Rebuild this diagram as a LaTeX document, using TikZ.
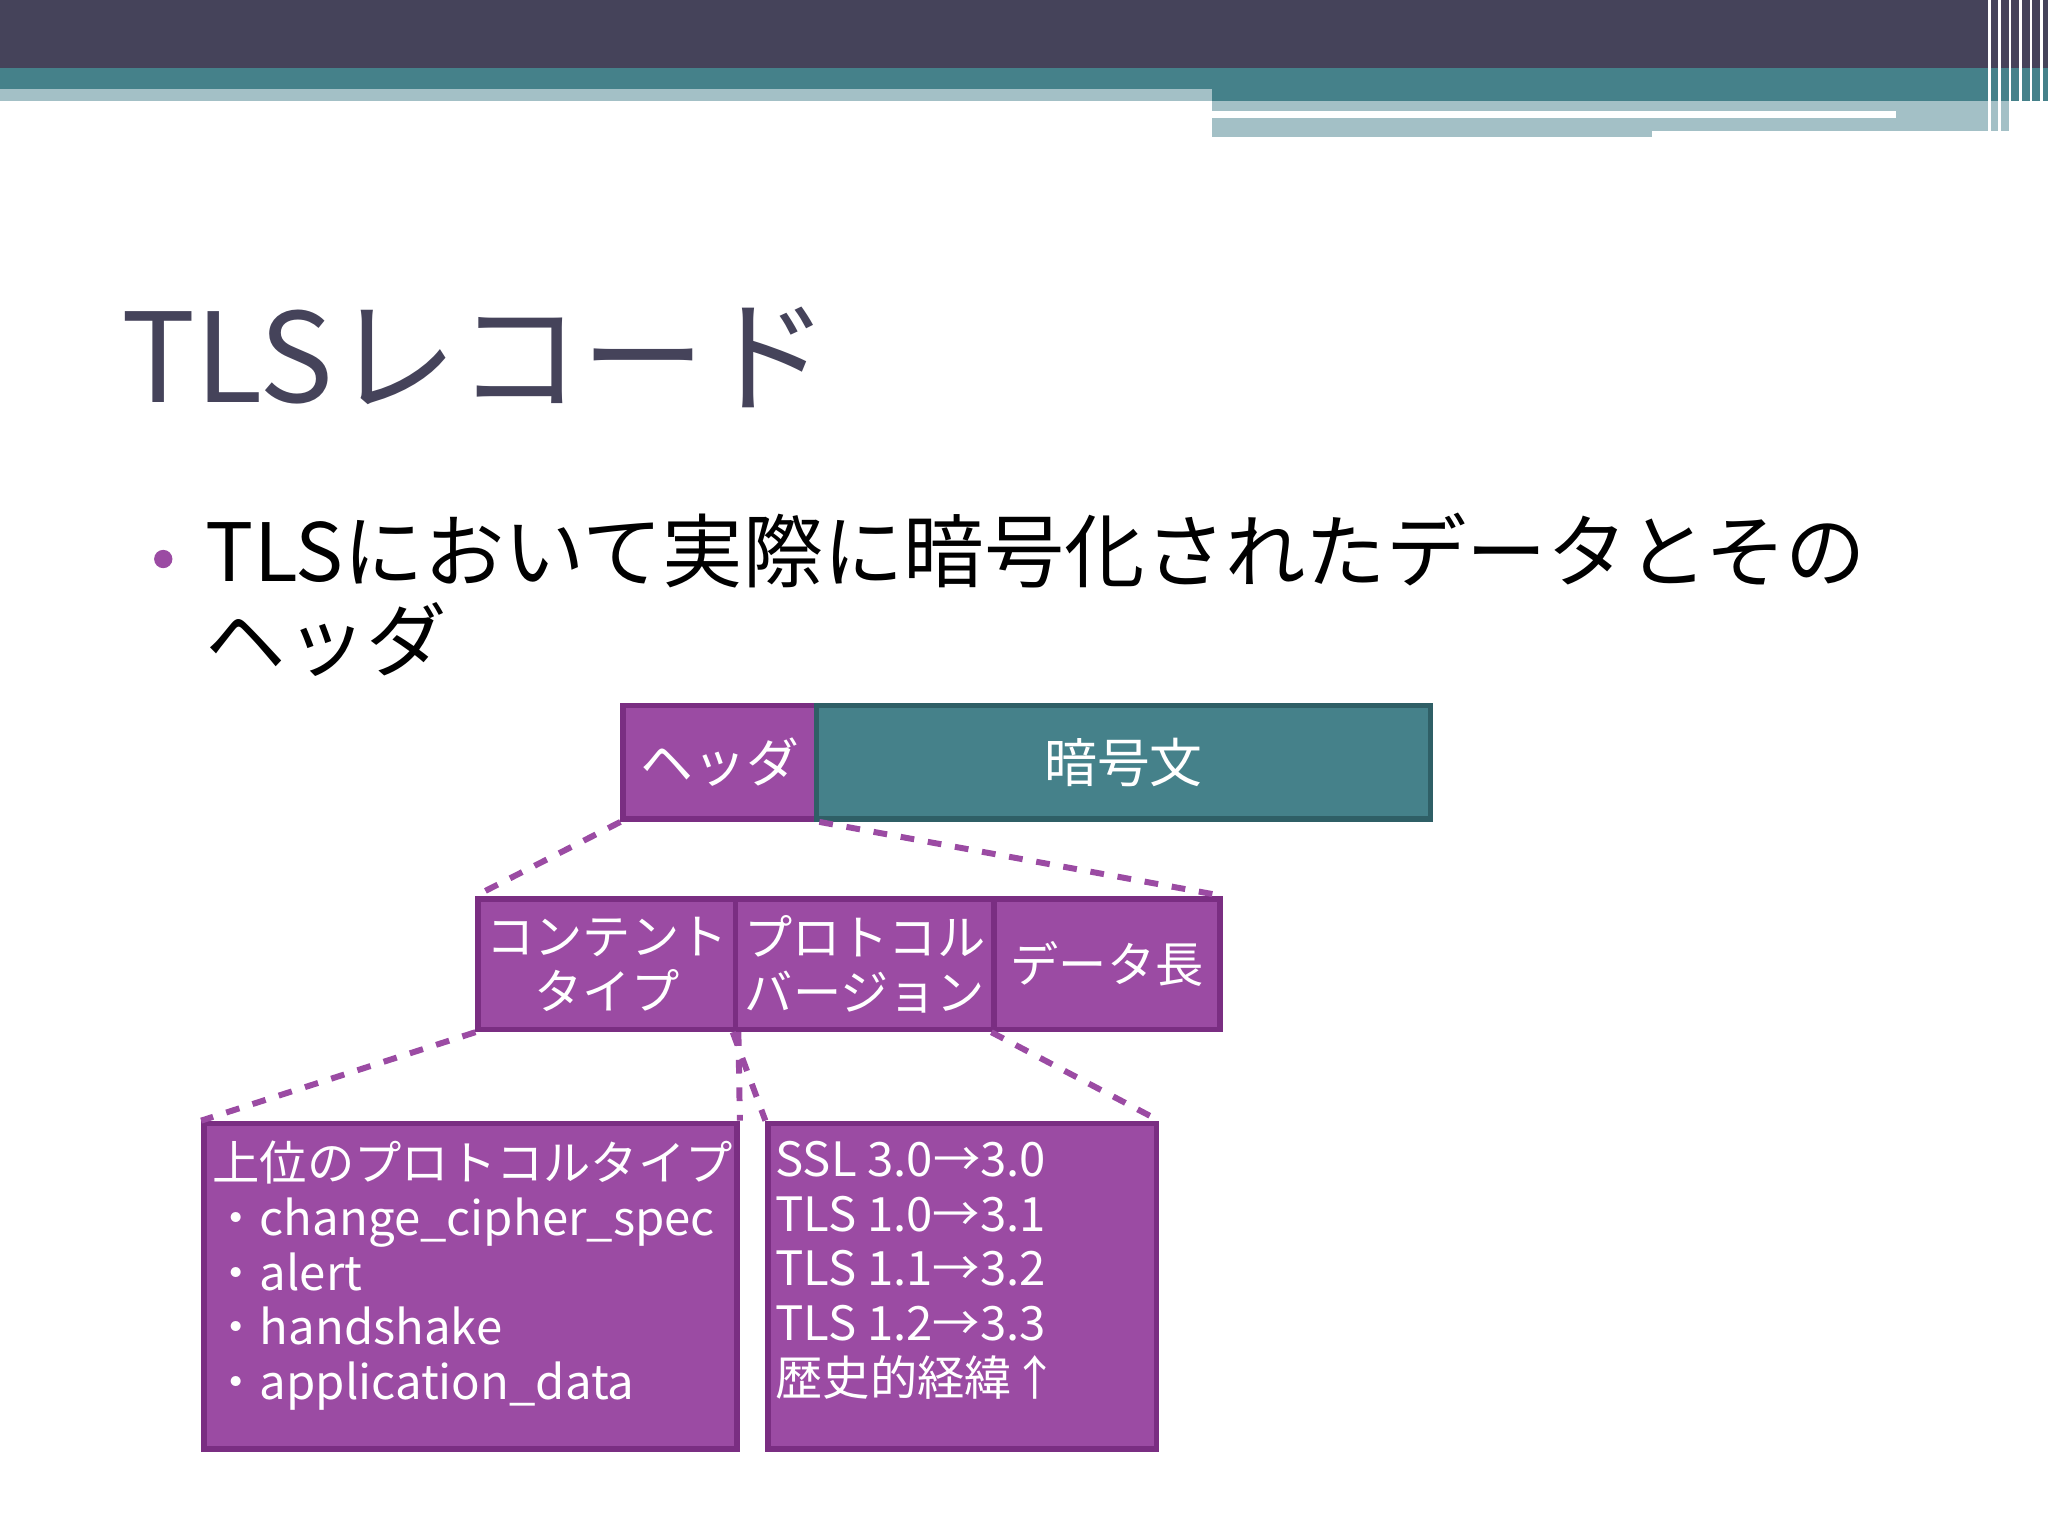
\documentclass[tikz,border=0pt]{standalone}
\usepackage{fontspec}
\setmainfont{Noto Sans CJK JP}
\definecolor{dk}{HTML}{45435A}
\definecolor{teal}{HTML}{45818A}
\definecolor{lt}{HTML}{A3C0C6}
\definecolor{pur}{HTML}{9B4BA3}
\definecolor{purb}{HTML}{7A2E82}
\definecolor{tealb}{HTML}{2F5F66}
\tikzset{
 pbox/.style={draw=purb,line width=1.2pt,fill=pur,text=white,inner sep=0pt},
 tbox/.style={draw=tealb,line width=1.2pt,fill=teal,text=white,inner sep=0pt},
 dl/.style={draw=pur,dashed,line width=1.3pt},
}
\begin{document}
\begin{tikzpicture}[x=0.01cm,y=-0.01cm]
\useasboundingbox (0,0) rectangle (1568,1176);
% top banner
\fill[dk] (0,0) rectangle (1568,52);
\fill[teal] (0,52) rectangle (1568,68);
\fill[lt] (0,68) rectangle (928,77);
\fill[teal] (928,68) rectangle (1568,77);
\fill[lt] (928,77) rectangle (1540,105);
\fill[white] (928,85) rectangle (1452,90);
\fill[white] (1265,100) rectangle (1540,105);
\foreach \x in {1522,1530,1538,1546,1554,1562}{\fill[white] (\x,0) rectangle (\x+2,105);}
% title
\node[anchor=base west,inner sep=0pt,text=dk,font=\fontsize{27pt}{30pt}\selectfont] (title) at (92,308) {TLSレコード};
% bullet
\fill[pur] (125,428) circle (7);
\node[anchor=base west,inner sep=0pt,font=\fontsize{17.5pt}{20pt}\selectfont] (b1) at (157,445) {TLSにおいて実際に暗号化されたデータとその};
\node[anchor=base west,inner sep=0pt,font=\fontsize{17.5pt}{20pt}\selectfont] (b2) at (157,513) {ヘッダ};
% row 1
\node[pbox,minimum width=148\pgflinewidth,anchor=north west,minimum width=1.48cm,minimum height=0.87cm,font=\fontsize{11.5pt}{13pt}\selectfont] (hdr) at (475,538) {ヘッダ};
\node[tbox,anchor=north west,minimum width=4.70cm,minimum height=0.87cm,font=\fontsize{11.5pt}{13pt}\selectfont] (enc) at (623,538) {暗号文};
% row 2
\node[pbox,anchor=north west,minimum width=1.97cm,minimum height=1.0cm,align=center,font=\fontsize{10.5pt}{12pt}\selectfont] (ct) at (364,686) {コンテント\\タイプ};
\node[pbox,anchor=north west,minimum width=1.98cm,minimum height=1.0cm,align=center,font=\fontsize{10.5pt}{12pt}\selectfont] (pv) at (561,686) {プロトコル\\バージョン};
\node[pbox,anchor=north west,minimum width=1.73cm,minimum height=1.0cm,font=\fontsize{10.5pt}{12pt}\selectfont] (dl) at (759,686) {データ長};
% row 3
\node[pbox,anchor=north west,minimum width=4.08cm,minimum height=2.49cm] (up) at (154,858) {};
\node[anchor=north west,inner sep=0pt,text=white,align=left,font=\fontsize{10.3pt}{11.9pt}\selectfont] (upt) at (162,873) {上位のプロトコルタイプ\\・change\_cipher\_spec\\・alert\\・handshake\\・application\_data};
\node[pbox,anchor=north west,minimum width=2.97cm,minimum height=2.49cm] (ver) at (586,858) {};
\node[anchor=north west,inner sep=0pt,text=white,align=left,font=\fontsize{10.3pt}{11.9pt}\selectfont] (vert) at (593,873) {SSL 3.0→3.0\\TLS 1.0→3.1\\TLS 1.1→3.2\\TLS 1.2→3.3\\歴史的経緯↑};
% dashed connectors
\draw[dl] (hdr.south west) -- (ct.north west);
\draw[dl] (hdr.south east) -- (dl.north east);
\draw[dl] (ct.south west) -- (up.north west);
\draw[dl] (ct.south east) -- (up.north east);
\draw[dl] (pv.south west) -- (ver.north west);
\draw[dl] (dl.south west) -- (ver.north east);
\end{tikzpicture}
\end{document}
